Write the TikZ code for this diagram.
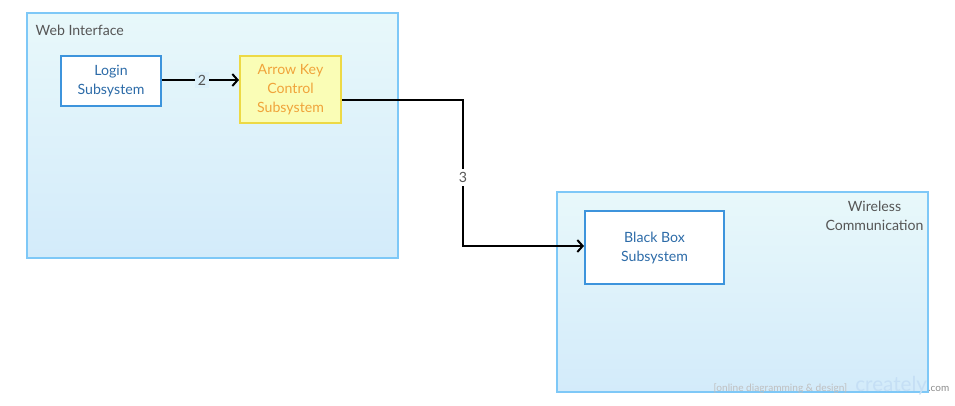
\documentclass[tikz,border=0pt]{standalone}
\usepackage{fontspec}
\setmainfont{Lato}
\usepackage{tikz}
\usetikzlibrary{arrows.meta}
\usetikzlibrary{calc}
\definecolor{groupline}{RGB}{126,200,247}
\definecolor{grouptop}{RGB}{232,248,250}
\definecolor{groupbottom}{RGB}{211,235,250}
\definecolor{boxline}{RGB}{61,148,220}
\definecolor{boxtext}{RGB}{44,107,168}
\definecolor{keyfill}{RGB}{250,253,182}
\definecolor{keyline}{RGB}{237,217,69}
\definecolor{keytext}{RGB}{240,163,58}
\definecolor{grouptext}{RGB}{85,85,85}
\tikzset{my arrow/.style={
  black,
  line width=1.5pt,
  -{Straight Barb[length=4pt,width=9pt,line width=1.5pt]}
  }
}
\tikzset{group/.style={
  draw=groupline,
  line width=1.5pt,
  top color=grouptop,
  bottom color=groupbottom,
  inner sep=0pt
  }
}
\tikzset{subsys/.style={
  draw=boxline,
  fill=white,
  line width=1.5pt,
  text=boxtext,
  align=center,
  inner sep=0pt,
  font=\fontsize{10.6}{14.25}\selectfont
  }
}

\begin{document}
\begin{tikzpicture}[x=0.75pt,y=-0.75pt]
    \useasboundingbox (0,0) rectangle (955,405);

    % containers
    \node[group,minimum width=278.25pt,minimum height=183.75pt] (web) at (212.5,135.5) {};
    \node[group,minimum width=278.25pt,minimum height=150pt] (wifi) at (742.5,292) {};

    \node[anchor=west,text=grouptext,font=\fontsize{10.6}{14.25}\selectfont] (webname) at (31,30) {Web Interface};
    \node[text=grouptext,align=center,font=\fontsize{10.6}{14.25}\selectfont] (wifiname) at (874.5,215.5) {Wireless\\Communication};

    % subsystems
    \node[subsys,minimum width=75pt,minimum height=37.5pt] (login) at (111,81) {Login\\Subsystem};
    \node[subsys,fill=keyfill,draw=keyline,text=keytext,minimum width=75.75pt,minimum height=50.25pt] (key) at (290.5,89.5) {Arrow Key\\Control\\Subsystem};
    \node[subsys,minimum width=104.25pt,minimum height=54.75pt] (bb) at (654.5,247.5) {Black Box\\Subsystem};

    % connectors
    \draw[my arrow] (login.east |- 0,80) -- node[pos=0.52,fill=grouptop!40!groupbottom,text=grouptext,inner sep=2pt,font=\fontsize{10.6}{12}\selectfont]{2} (key.west |- 0,80);

    \coordinate (bendA) at (463,100);
    \coordinate (bendB) at (463,246);
    \draw[my arrow] (key.east |- bendA) -- (bendA) -- node[pos=0.53,fill=white,text=grouptext,inner sep=2.5pt,font=\fontsize{10.6}{12}\selectfont]{3} (bendB) -- (bb.west |- bendB);

    % watermark
    \node[anchor=base east,text=black!25,font=\fontsize{7.6}{8}\selectfont] (mark) at (852,391) {[online diagramming \& design]};
    \node[anchor=base west,text=boxline!30,font=\fontsize{15.5}{16}\selectfont,inner sep=0pt] (logo) at (855,391) {creately};
    \node[anchor=base west,text=black!45,font=\fontsize{7.5}{8}\selectfont,inner sep=0.5pt] (dotcom) at (logo.base east) {.com};
\end{tikzpicture}
\end{document}
